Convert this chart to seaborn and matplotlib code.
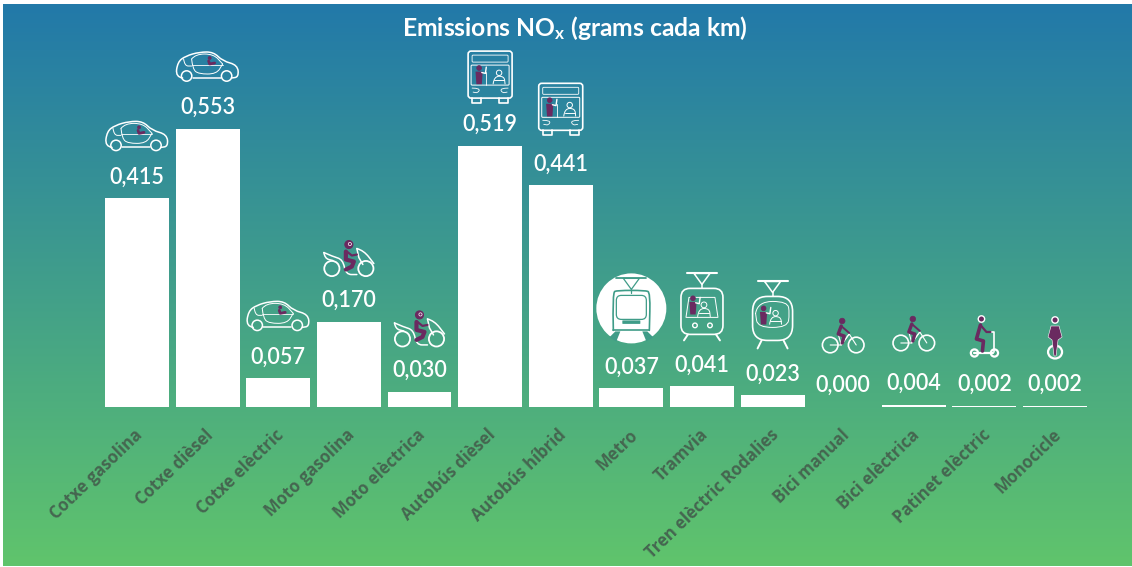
import numpy as np
import matplotlib
matplotlib.use("Agg")
import matplotlib.pyplot as plt
from matplotlib.colors import LinearSegmentedColormap
from matplotlib.patches import Circle, Ellipse, FancyBboxPatch, PathPatch, Polygon
from matplotlib.path import Path
from matplotlib.transforms import ScaledTranslation
import seaborn as sns

W, H = 1132, 567

vehicles = ["Cotxe gasolina", "Cotxe dièsel", "Cotxe elèctric", "Moto gasolina",
            "Moto elèctrica", "Autobús dièsel", "Autobús híbrid", "Metro", "Tramvia",
            "Tren elèctric Rodalies", "Bici manual", "Bici elèctrica",
            "Patinet elèctric", "Monocicle"]
emissions = [0.415, 0.553, 0.057, 0.170, 0.030, 0.519, 0.441,
             0.037, 0.041, 0.023, 0.000, 0.004, 0.002, 0.002]
icon_kinds = ["car", "car", "car", "moto", "moto", "bus", "bus",
              "metro", "tram", "train", "bike", "bike", "scooter", "mono"]

WHITE = "white"
PURPLE = "#6a2a60"
BG_TOP = "#2279a9"
BG_BOTTOM = "#60c46c"
METRO_LINE = "#3f9c88"

# how far above the bar top each icon sits (px)
ICON_LIFT = {"car": 62, "moto": 60, "metro": 80, "tram": 79, "train": 80,
             "bike": 72, "scooter": 68, "mono": 68}
BUS_LIFT = [69, 76]


def curve(pa, pts, lw=1.1, color=WHITE, closed=False, fill=False):
    """Smooth line through control points, quadratic segments"""
    pts = np.asarray(pts, dtype=float)
    verts = [pts[0]]
    codes = [Path.MOVETO]
    for i in range(1, len(pts) - 1):
        verts += [pts[i], (pts[i] + pts[i + 1]) / 2]
        codes += [Path.CURVE3, Path.CURVE3]
    verts.append(pts[-1])
    codes.append(Path.LINETO)
    if closed:
        verts.append(pts[0])
        codes.append(Path.LINETO)
    pa.add_patch(PathPatch(Path(verts, codes), fc=color if fill else "none",
                           ec=color, lw=lw, capstyle="round", joinstyle="round"))


def box(pa, x, y, w, h, r=2, lw=1.0, ec=WHITE, fc="none"):
    pa.add_patch(FancyBboxPatch((x, y), w, h, boxstyle=f"round,pad=0,rounding_size={r}",
                                fc=fc, ec=ec, lw=lw))


def ring(pa, x, y, r, lw=1.3, ec=WHITE, fc="none"):
    pa.add_patch(Circle((x, y), r, fc=fc, ec=ec, lw=lw))


def stick(pa, xs, ys, lw=2.5, color=PURPLE):
    pa.plot(xs, ys, color=color, lw=lw, solid_capstyle="round", solid_joinstyle="round")


def passenger(pa, x, y, s=1.0):
    # standing person holding the rail
    ring(pa, x, y - 9 * s, 2.6 * s, lw=0.6, ec=PURPLE, fc=PURPLE)
    pa.add_patch(Polygon([(x - 4 * s, y - 5 * s), (x + 4 * s, y - 5 * s), (x + 3 * s, y + 9 * s),
                          (x - 3 * s, y + 9 * s)], fc=PURPLE, ec="none"))
    stick(pa, [x + 3 * s, x + 7 * s, x + 8 * s], [y - 4 * s, y - 3 * s, y - 10 * s], lw=1.0, color=WHITE)


def driver(pa, x, y, s=1.0):
    ring(pa, x, y - 5 * s, 3.2 * s, lw=0.7)
    curve(pa, [(x - 7 * s, y + 8 * s), (x - 6 * s, y - 1 * s), (x + 6 * s, y - 1 * s), (x + 7 * s, y + 8 * s)], lw=0.7)
    stick(pa, [x - 6 * s, x + 6 * s], [y + 4 * s, y + 4 * s], lw=0.7, color=WHITE)


def draw_car(pa, x, y):
    curve(pa, [(x - 25, y + 11), (x - 32, y + 10), (x - 30, y - 5), (x - 22, y - 11), (x - 8, y - 15),
               (x + 6, y - 15), (x + 15, y - 6), (x + 30, y - 2), (x + 31, y + 10), (x + 24, y + 11)], lw=1.1)
    stick(pa, [x - 15, x + 13], [y + 11, y + 11], lw=1.1, color=WHITE)
    curve(pa, [(x - 24, y - 8), (x - 23, y - 1), (x - 16, y - 1)], lw=0.7)
    curve(pa, [(x - 16, y - 8), (x - 12, y - 13), (x + 6, y - 13), (x + 15, y - 3)], lw=0.7)
    curve(pa, [(x - 16, y - 8), (x - 15, y + 2), (x - 9, y + 7), (x + 9, y + 7), (x + 15, y - 3)], lw=0.7)
    stick(pa, [x - 16, x + 15], [y - 2, y - 2], lw=0.6, color=WHITE)
    ring(pa, x - 21, y + 9, 5.2, lw=1.1)
    ring(pa, x + 19, y + 9, 5.2, lw=1.1)
    ring(pa, x + 2, y - 9, 1.6, lw=0.4, ec=PURPLE, fc=PURPLE)
    stick(pa, [x + 1, x + 2, x + 7], [y - 6, y - 3, y - 4], lw=2.0)


def draw_moto(pa, x, y):
    ring(pa, x - 17, y + 7, 7.6)
    ring(pa, x + 17, y + 7, 7.6)
    curve(pa, [(x - 25, y - 9), (x - 16, y - 5), (x - 6, y - 2), (x - 3, y + 13), (x + 8, y + 13)], lw=1.1)
    curve(pa, [(x - 25, y - 9), (x - 24, y - 3), (x - 16, y - 1)], lw=1.1)
    curve(pa, [(x + 8, y - 13), (x + 15, y - 11), (x + 25, y + 2)], lw=1.1)
    stick(pa, [x + 8, x + 10, x + 14], [y - 13, y - 4, y + 3], lw=1.1, color=WHITE)
    ring(pa, x, y - 17, 4, lw=0.8, ec=PURPLE, fc=PURPLE)
    ring(pa, x + 1, y - 17.5, 1.6, lw=0.5, ec=WHITE, fc=PURPLE)
    stick(pa, [x - 3, x - 3, x + 5, x + 3, x - 3], [y - 10, y - 2, y, y + 5, y + 8], lw=3.0)
    stick(pa, [x - 2, x + 3, x + 8], [y - 10, y - 6, y - 7], lw=1.6)


def draw_bus(pa, x, y):
    box(pa, x - 22, y - 26, 44, 47, r=3, lw=1.2)
    stick(pa, [x - 18, x - 18, x - 9, x - 9], [y + 21, y + 26, y + 26, y + 21], lw=1.2, color=WHITE)
    stick(pa, [x + 18, x + 18, x + 9, x + 9], [y + 21, y + 26, y + 26, y + 21], lw=1.2, color=WHITE)
    box(pa, x - 18, y - 22, 36, 7, r=1, lw=0.6)
    box(pa, x - 19, y - 12, 38, 20, r=1, lw=0.7)
    passenger(pa, x - 11, y - 1, 0.9)
    stick(pa, [x - 4, x - 4], [y - 5, y + 8], lw=0.6, color=WHITE)
    driver(pa, x + 9, y, 0.85)
    curve(pa, [(x - 18, y + 11), (x - 10, y + 11), (x - 12, y + 16), (x - 17, y + 15)], lw=0.6)
    curve(pa, [(x + 18, y + 11), (x + 10, y + 11), (x + 12, y + 16), (x + 17, y + 15)], lw=0.6)


def pantograph(pa, x, y, color=WHITE, lw=1.1):
    stick(pa, [x - 15, x + 15], [y, y], lw=lw + 0.4, color=color)
    stick(pa, [x - 8, x, x + 8, x - 8], [y, y + 11, y, y], lw=lw, color=color)
    stick(pa, [x, x], [y + 11, y + 15], lw=lw, color=color)


def draw_metro(pa, x, y):
    ring(pa, x, y, 35, lw=0, fc=WHITE)
    pantograph(pa, x, y - 30, METRO_LINE, 0.9)
    curve(pa, [(x - 18, y + 22), (x - 19, y - 16), (x - 14, y - 18), (x + 14, y - 18),
               (x + 19, y - 16), (x + 18, y + 22)], lw=1.2, color=METRO_LINE)
    stick(pa, [x - 18, x + 18], [y + 22, y + 22], lw=1.2, color=METRO_LINE)
    box(pa, x - 15, y - 13, 30, 24, r=5, lw=0.9, ec=METRO_LINE)
    box(pa, x - 9, y + 12, 18, 3.5, r=0.5, lw=0, fc=METRO_LINE, ec=METRO_LINE)
    pa.add_patch(Polygon([(x - 16, y + 23), (x - 11, y + 23), (x - 15, y + 33), (x - 22, y + 29)],
                         fc=METRO_LINE, ec="none"))
    pa.add_patch(Polygon([(x + 16, y + 23), (x + 11, y + 23), (x + 15, y + 33), (x + 22, y + 29)],
                         fc=METRO_LINE, ec="none"))


def draw_tram(pa, x, y):
    pantograph(pa, x, y - 34)
    box(pa, x - 21, y - 19, 42, 46, r=9, lw=1.2)
    pa.add_patch(Polygon([(x - 13, y - 10), (x + 13, y - 10), (x + 16, y + 10), (x - 16, y + 10)],
                         fc="none", ec=WHITE, lw=0.7))
    passenger(pa, x - 9, y - 1, 0.9)
    driver(pa, x + 2, y + 2, 0.9)
    ring(pa, x - 7, y + 18, 2.3, lw=1.0)
    ring(pa, x + 8, y + 18, 2.3, lw=1.0)
    stick(pa, [x - 14, x - 18], [y + 27, y + 33], lw=1.4, color=WHITE)
    stick(pa, [x + 14, x + 18], [y + 27, y + 33], lw=1.4, color=WHITE)


def draw_train(pa, x, y):
    pantograph(pa, x, y - 34)
    box(pa, x - 20, y - 19, 40, 44, r=15, lw=1.2)
    curve(pa, [(x - 17, y - 2), (x - 15, y - 14), (x + 15, y - 14), (x + 17, y - 2),
               (x + 15, y + 12), (x - 15, y + 12), (x - 17, y - 2)], lw=0.7)
    passenger(pa, x - 9, y + 1, 0.9)
    driver(pa, x + 3, y + 2, 0.85)
    stick(pa, [x - 11, x - 15], [y + 25, y + 33], lw=1.4, color=WHITE)
    stick(pa, [x + 11, x + 15], [y + 25, y + 33], lw=1.4, color=WHITE)


def draw_bike(pa, x, y):
    ring(pa, x - 13, y + 10, 7.8, lw=1.2)
    ring(pa, x + 13, y + 10, 7.8, lw=1.2)
    stick(pa, [x - 13, x - 2, x + 6, x + 13], [y + 10, y + 10, y - 1, y + 10], lw=0.8, color=WHITE)
    stick(pa, [x - 5, x - 2, x + 6], [y - 1, y + 10, y - 1], lw=0.8, color=WHITE)
    ring(pa, x - 1, y - 14, 2.8, lw=0.5, ec=PURPLE, fc=PURPLE)
    stick(pa, [x - 2, x - 5, x + 1, x - 1], [y - 9, y - 1, y + 1, y + 8], lw=2.4)
    stick(pa, [x - 2, x + 6], [y - 9, y - 2], lw=1.4)


def draw_scooter(pa, x, y):
    ring(pa, x - 10, y + 15, 3.6, lw=1.6)
    ring(pa, x + 10, y + 15, 3.6, lw=1.6)
    stick(pa, [x - 10, x + 9], [y + 15, y + 15], lw=1.6, color=WHITE)
    stick(pa, [x + 10, x + 10, x + 6], [y + 14, y - 6, y - 6], lw=1.2, color=WHITE)
    ring(pa, x - 3, y - 19, 3.2, lw=1.0, ec=WHITE, fc=PURPLE)
    stick(pa, [x - 4, x - 8, x - 1, x - 2], [y - 13, y + 1, y + 3, y + 13], lw=2.6)
    stick(pa, [x - 4, x + 2, x + 6], [y - 13, y - 6, y - 6], lw=1.6)


def draw_mono(pa, x, y):
    pa.add_patch(Ellipse((x, y + 14), 14, 13, fc="none", ec=WHITE, lw=1.6))
    ring(pa, x, y - 18, 3.2, lw=1.0, ec=WHITE, fc=PURPLE)
    pa.add_patch(Polygon([(x - 4, y - 12), (x + 4, y - 12), (x + 7, y - 1), (x + 3, y + 2),
                          (x + 1, y + 18), (x - 1, y + 18), (x - 3, y + 2), (x - 7, y - 1)],
                         fc=PURPLE, ec=WHITE, lw=0.4))


DRAWERS = {"car": draw_car, "moto": draw_moto, "bus": draw_bus, "metro": draw_metro,
           "tram": draw_tram, "train": draw_train, "bike": draw_bike,
           "scooter": draw_scooter, "mono": draw_mono}


def main():
    sns.set_style("white")
    plt.rcParams["font.family"] = ["Lato", "Open Sans", "DejaVu Sans"]
    plt.rcParams["mathtext.default"] = "regular"

    fig = plt.figure(figsize=(W / 100, H / 100), dpi=100, facecolor="white")

    # gradient background, with the small white edge of the picture
    bg = fig.add_axes([3 / W, 1 / H, (W - 3) / W, (H - 5) / H])
    cmap = LinearSegmentedColormap.from_list("bg", [BG_TOP, BG_BOTTOM])
    bg.imshow(np.linspace(0, 1, 256).reshape(-1, 1), cmap=cmap, aspect="auto")
    bg.axis("off")

    # bars, axes spans from the top edge down to the baseline at y=407
    step = 70.62
    left = 137 - step / 2
    ax = fig.add_axes([left / W, (H - 407) / H, step * 14 / W, 407 / H])
    ax.patch.set_alpha(0)
    sns.barplot(x=vehicles, y=emissions, color="white", saturation=1, width=0.905, linewidth=0, ax=ax)
    ax.set_xlim(-0.5, 13.5)
    ax.set_ylim(0, 407 / 502.7)
    ax.set_yticks([])
    ax.set_xlabel("")
    ax.set_ylabel("")
    ax.tick_params(axis="x", length=0, pad=13.5)
    ax.set_xticks(range(len(vehicles)))
    ax.set_xticklabels(vehicles, rotation=44, ha="right", rotation_mode="anchor",
                       fontsize=12, fontweight="bold", color="#456650",
                       family=["Open Sans", "DejaVu Sans"])
    # labels end a little left of the tick
    nudge = ScaledTranslation(-3 / 100, 0, fig.dpi_scale_trans)
    for label in ax.get_xticklabels():
        label.set_transform(label.get_transform() + nudge)
    sns.despine(ax=ax, left=True, bottom=True)

    for i, v in enumerate(emissions):
        ax.annotate(f"{v:.3f}".replace(".", ","), xy=(i, v), xytext=(0, 15.5),
                    textcoords="offset points", ha="center", va="center",
                    color="white", fontsize=15.5, fontweight="semibold")

    # icons go on an overlay measured in image pixels
    pa = fig.add_axes([0, 0, 1, 1])
    pa.set_xlim(0, W)
    pa.set_ylim(H, 0)
    pa.axis("off")
    bus_i = 0
    for i, (kind, v) in enumerate(zip(icon_kinds, emissions)):
        px, py = ax.transData.transform((i, v))
        if kind == "bus":
            lift = BUS_LIFT[bus_i]
            bus_i += 1
        else:
            lift = ICON_LIFT[kind]
        DRAWERS[kind](pa, px, H - py - lift)

    pa.text(575, 28, "Emissions NO$_{x}$ (grams cada km)", color="white", ha="center",
            va="center", fontsize=17.7, fontweight="bold")

    fig.savefig("out.png", dpi=100)


if __name__ == "__main__":
    main()
